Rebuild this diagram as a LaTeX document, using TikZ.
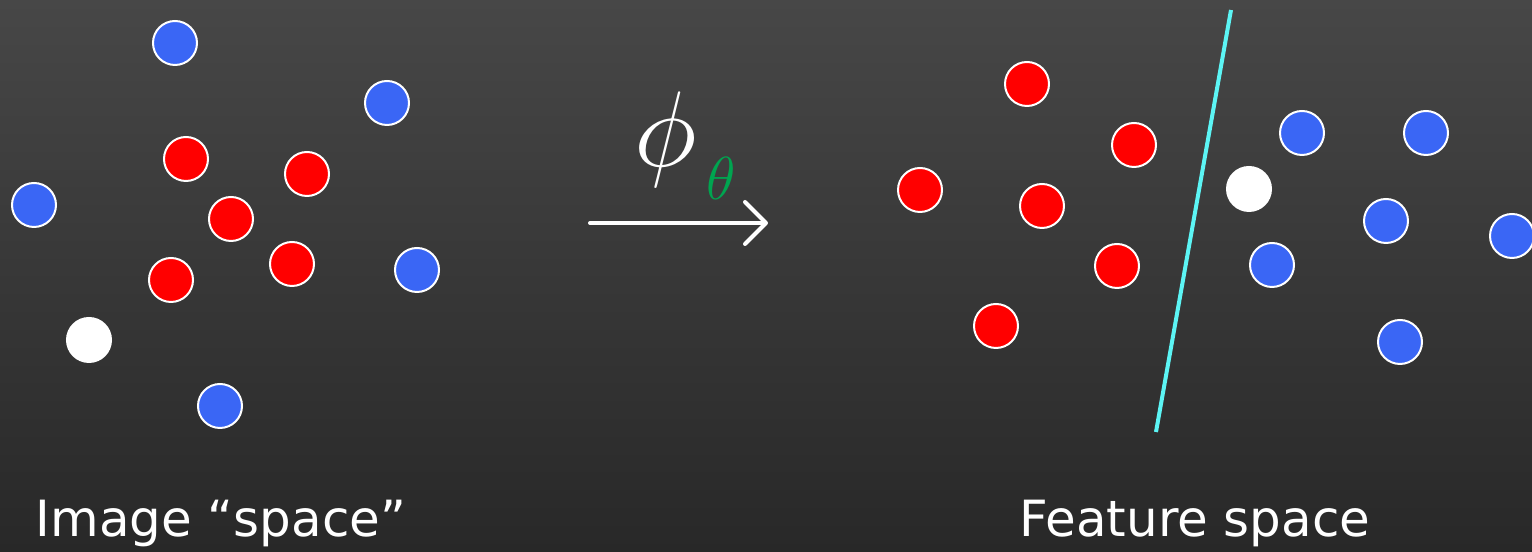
\documentclass[tikz,border=0pt]{standalone}
\usepackage{fontspec}
\setmainfont{DejaVu Sans}
\usepackage{tikz}
\usetikzlibrary{arrows.meta, positioning}
\definecolor{bgtop}{HTML}{474747}
\definecolor{bgbottom}{HTML}{282828}
\definecolor{dotblue}{HTML}{3A66F5}
\definecolor{dotred}{HTML}{FF0000}
\definecolor{sepcyan}{HTML}{5CF5F5}
\definecolor{thetagreen}{HTML}{00A550}

\begin{document}
\begin{tikzpicture}[dot/.style={circle, draw=white, line width=0.02cm, minimum size=0.44cm, inner sep=0pt},
 reddot/.style={dot, fill=dotred}, bluedot/.style={dot, fill=dotblue}, whitedot/.style={dot, fill=white},
 caption/.style={text=white, font=\fontsize{14.2}{17}\selectfont, anchor=base}]
 \shade[top color=bgtop, bottom color=bgbottom] (0,0) rectangle (15.32,5.52);
 \useasboundingbox (0,0) rectangle (15.32,5.52);
 % image space
 \node[bluedot] (lb1) at (1.75,5.09){};
 \node[bluedot] (lb2) at (3.87,4.49){};
 \node[bluedot] (lb3) at (0.34,3.47){};
 \node[bluedot] (lb4) at (4.17,2.82){};
 \node[bluedot] (lb5) at (2.20,1.46){};
 \node[reddot] (lr1) at (1.86,3.93){};
 \node[reddot] (lr2) at (3.07,3.78){};
 \node[reddot] (lr3) at (2.31,3.33){};
 \node[reddot] (lr4) at (2.92,2.88){};
 \node[reddot] (lr5) at (1.71,2.72){};
 \node[whitedot] (lw) at (0.89,2.12){};
 \node[caption] (imgcap) at (2.21,0.15){Image “space”};
 % mapping
 \coordinate (mapstart) at (5.90,3.29);
 \coordinate (mapend) at (7.68,3.29);
 \draw[white, line width=0.04cm, line cap=round, -{Straight Barb[length=2.1mm, width=4.2mm, line cap=round, line join=round]}] (mapstart) -- (mapend);
 \node[text=white, inner sep=0pt, scale=1.23, font=\fontsize{31}{36}\selectfont] (phi) at (6.66,4.12){$\phi$};
 \node[text=thetagreen, inner sep=0pt, font=\fontsize{18}{22}\selectfont] (theta) at (7.21,3.74){$\theta$};
 % feature space
 \node[reddot] (rr1) at (10.27,4.68){};
 \node[reddot] (rr2) at (11.34,4.07){};
 \node[reddot] (rr3) at (9.20,3.62){};
 \node[reddot] (rr4) at (10.42,3.46){};
 \node[reddot] (rr5) at (11.17,2.86){};
 \node[reddot] (rr6) at (9.96,2.26){};
 \node[bluedot] (rb1) at (13.02,4.19){};
 \node[bluedot] (rb2) at (14.26,4.19){};
 \node[bluedot] (rb3) at (13.86,3.31){};
 \node[bluedot] (rb4) at (12.72,2.87){};
 \node[bluedot] (rb5) at (15.12,3.16){};
 \node[bluedot] (rb6) at (14.00,2.10){};
 \node[whitedot] (rw) at (12.49,3.63){};
 \coordinate (septop) at (12.31,5.42);
 \coordinate (sepbottom) at (11.56,1.20);
 \draw[sepcyan, line width=0.04cm] (septop) -- (sepbottom);
 \node[caption] (featcap) at (11.95,0.15){Feature space};
\end{tikzpicture}
\end{document}
